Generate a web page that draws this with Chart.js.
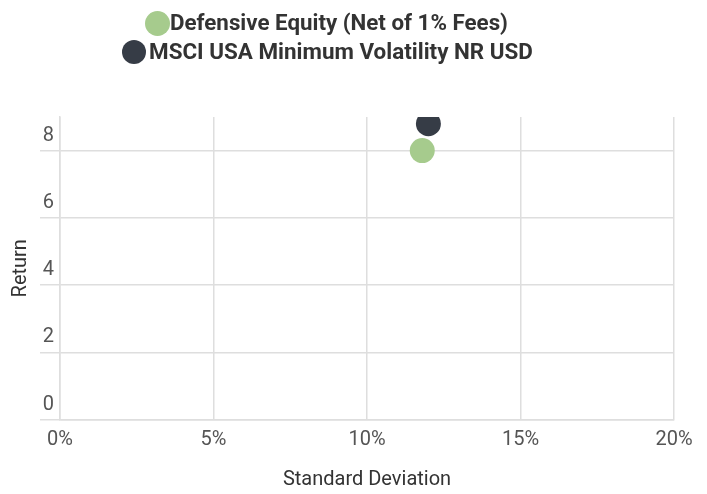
<!DOCTYPE html>
<html>
<head>
<meta charset="utf-8">
<script src="https://cdn.jsdelivr.net/npm/chart.js@4.4.1/dist/chart.umd.min.js"></script>
<style>
  html, body { margin: 0; padding: 0; background: #fff; }
  #wrap { position: relative; width: 707px; height: 494px; }
  #c { position: absolute; left: 0; top: 0; }
  .lg-dot { position: absolute; border-radius: 50%; }
  .lg-txt { position: absolute; font-family: Roboto, sans-serif; font-weight: 700; font-size: 22px; color: #333; white-space: nowrap; transform-origin: 0 50%; line-height: 26px; }
</style>
</head>
<body>
<div id="wrap">
  <canvas id="c" width="707" height="494"></canvas>
  <div id="legend"></div>
</div>
<script>
// ---- data ----
const seriesLabels = ["Defensive Equity (Net of 1% Fees)", "MSCI USA Minimum Volatility NR USD"];
const seriesColors = ["#a6cb8d", "#363c46"];
const stdDev = [11.8, 12.0];      // x, percent
const returns = [8.0, 8.8];       // y
const xTicks = [0, 5, 10, 15, 20];
const yTicks = [0, 2, 4, 6, 8];
const xTitle = "Standard Deviation";
const yTitle = "Return";

const datasets = seriesLabels.map((lab, i) => ({
  label: lab,
  data: [{ x: stdDev[i], y: returns[i] }],
  backgroundColor: seriesColors[i],
  borderColor: seriesColors[i],
  pointRadius: 12.5,
  pointHoverRadius: 12.5,
  borderWidth: 0
}));

const grid = '#dedede';
new Chart(document.getElementById('c'), {
  type: 'scatter',
  data: { datasets },
  options: {
    responsive: false,
    animation: false,
    layout: { padding: { top: 117, right: 33, bottom: 2, left: 0 } },
    plugins: { legend: { display: false }, tooltip: { enabled: false } },
    scales: {
      x: {
        type: 'linear', min: xTicks[0], max: xTicks[xTicks.length - 1],
        afterBuildTicks: (ax) => { ax.ticks = xTicks.map(v => ({ value: v })); },
        afterFit: (s) => { s.height = 494 - 2 - 419.5; },
        grid: { color: grid, lineWidth: 1.5, drawTicks: false },
        border: { color: grid, width: 1.5 },
        ticks: { color: '#555', font: { family: 'Roboto', size: 20 }, padding: 8, callback: v => v + '%', maxRotation: 0 },
        title: { display: true, text: xTitle, color: '#333', font: { family: 'Roboto', size: 20 }, padding: { top: 14, bottom: 0 } }
      },
      y: {
        type: 'linear', min: 0, max: 9,
        afterBuildTicks: (ax) => { ax.ticks = yTicks.map(v => ({ value: v })); },
        afterFit: (s) => { s.width = 60; },
        grid: { color: grid, lineWidth: 1.5, tickLength: 20 },
        border: { color: grid, width: 1.5 },
        ticks: { color: '#555', font: { family: 'Roboto', size: 20 }, padding: -14, labelOffset: -15 },
        title: { display: true, text: yTitle, color: '#333', font: { family: 'Roboto', size: 20 }, padding: { top: 9, bottom: 0 } }
      }
    }
  }
});

// ---- HTML legend ----
const lg = document.getElementById('legend');
const rows = [
  { cx: 157, cy: 23, r: 12.5, tx: 170, w: 338 },
  { cx: 134, cy: 52, r: 12, tx: 149, w: 384 }
];
const mctx = document.createElement('canvas').getContext('2d');
mctx.font = '700 22px Roboto';
seriesLabels.forEach((lab, i) => {
  const p = rows[i];
  const d = document.createElement('div');
  d.className = 'lg-dot';
  d.style.left = (p.cx - p.r) + 'px'; d.style.top = (p.cy - p.r) + 'px';
  d.style.width = (2 * p.r) + 'px'; d.style.height = (2 * p.r) + 'px';
  d.style.background = seriesColors[i];
  lg.appendChild(d);
  const t = document.createElement('div');
  t.className = 'lg-txt';
  t.textContent = lab;
  t.style.left = p.tx + 'px'; t.style.top = (p.cy - 13) + 'px';
  const nat = mctx.measureText(lab).width;
  t.style.transform = 'scaleX(' + (p.w / nat).toFixed(3) + ')';
  lg.appendChild(t);
});
</script>
</body>
</html>
